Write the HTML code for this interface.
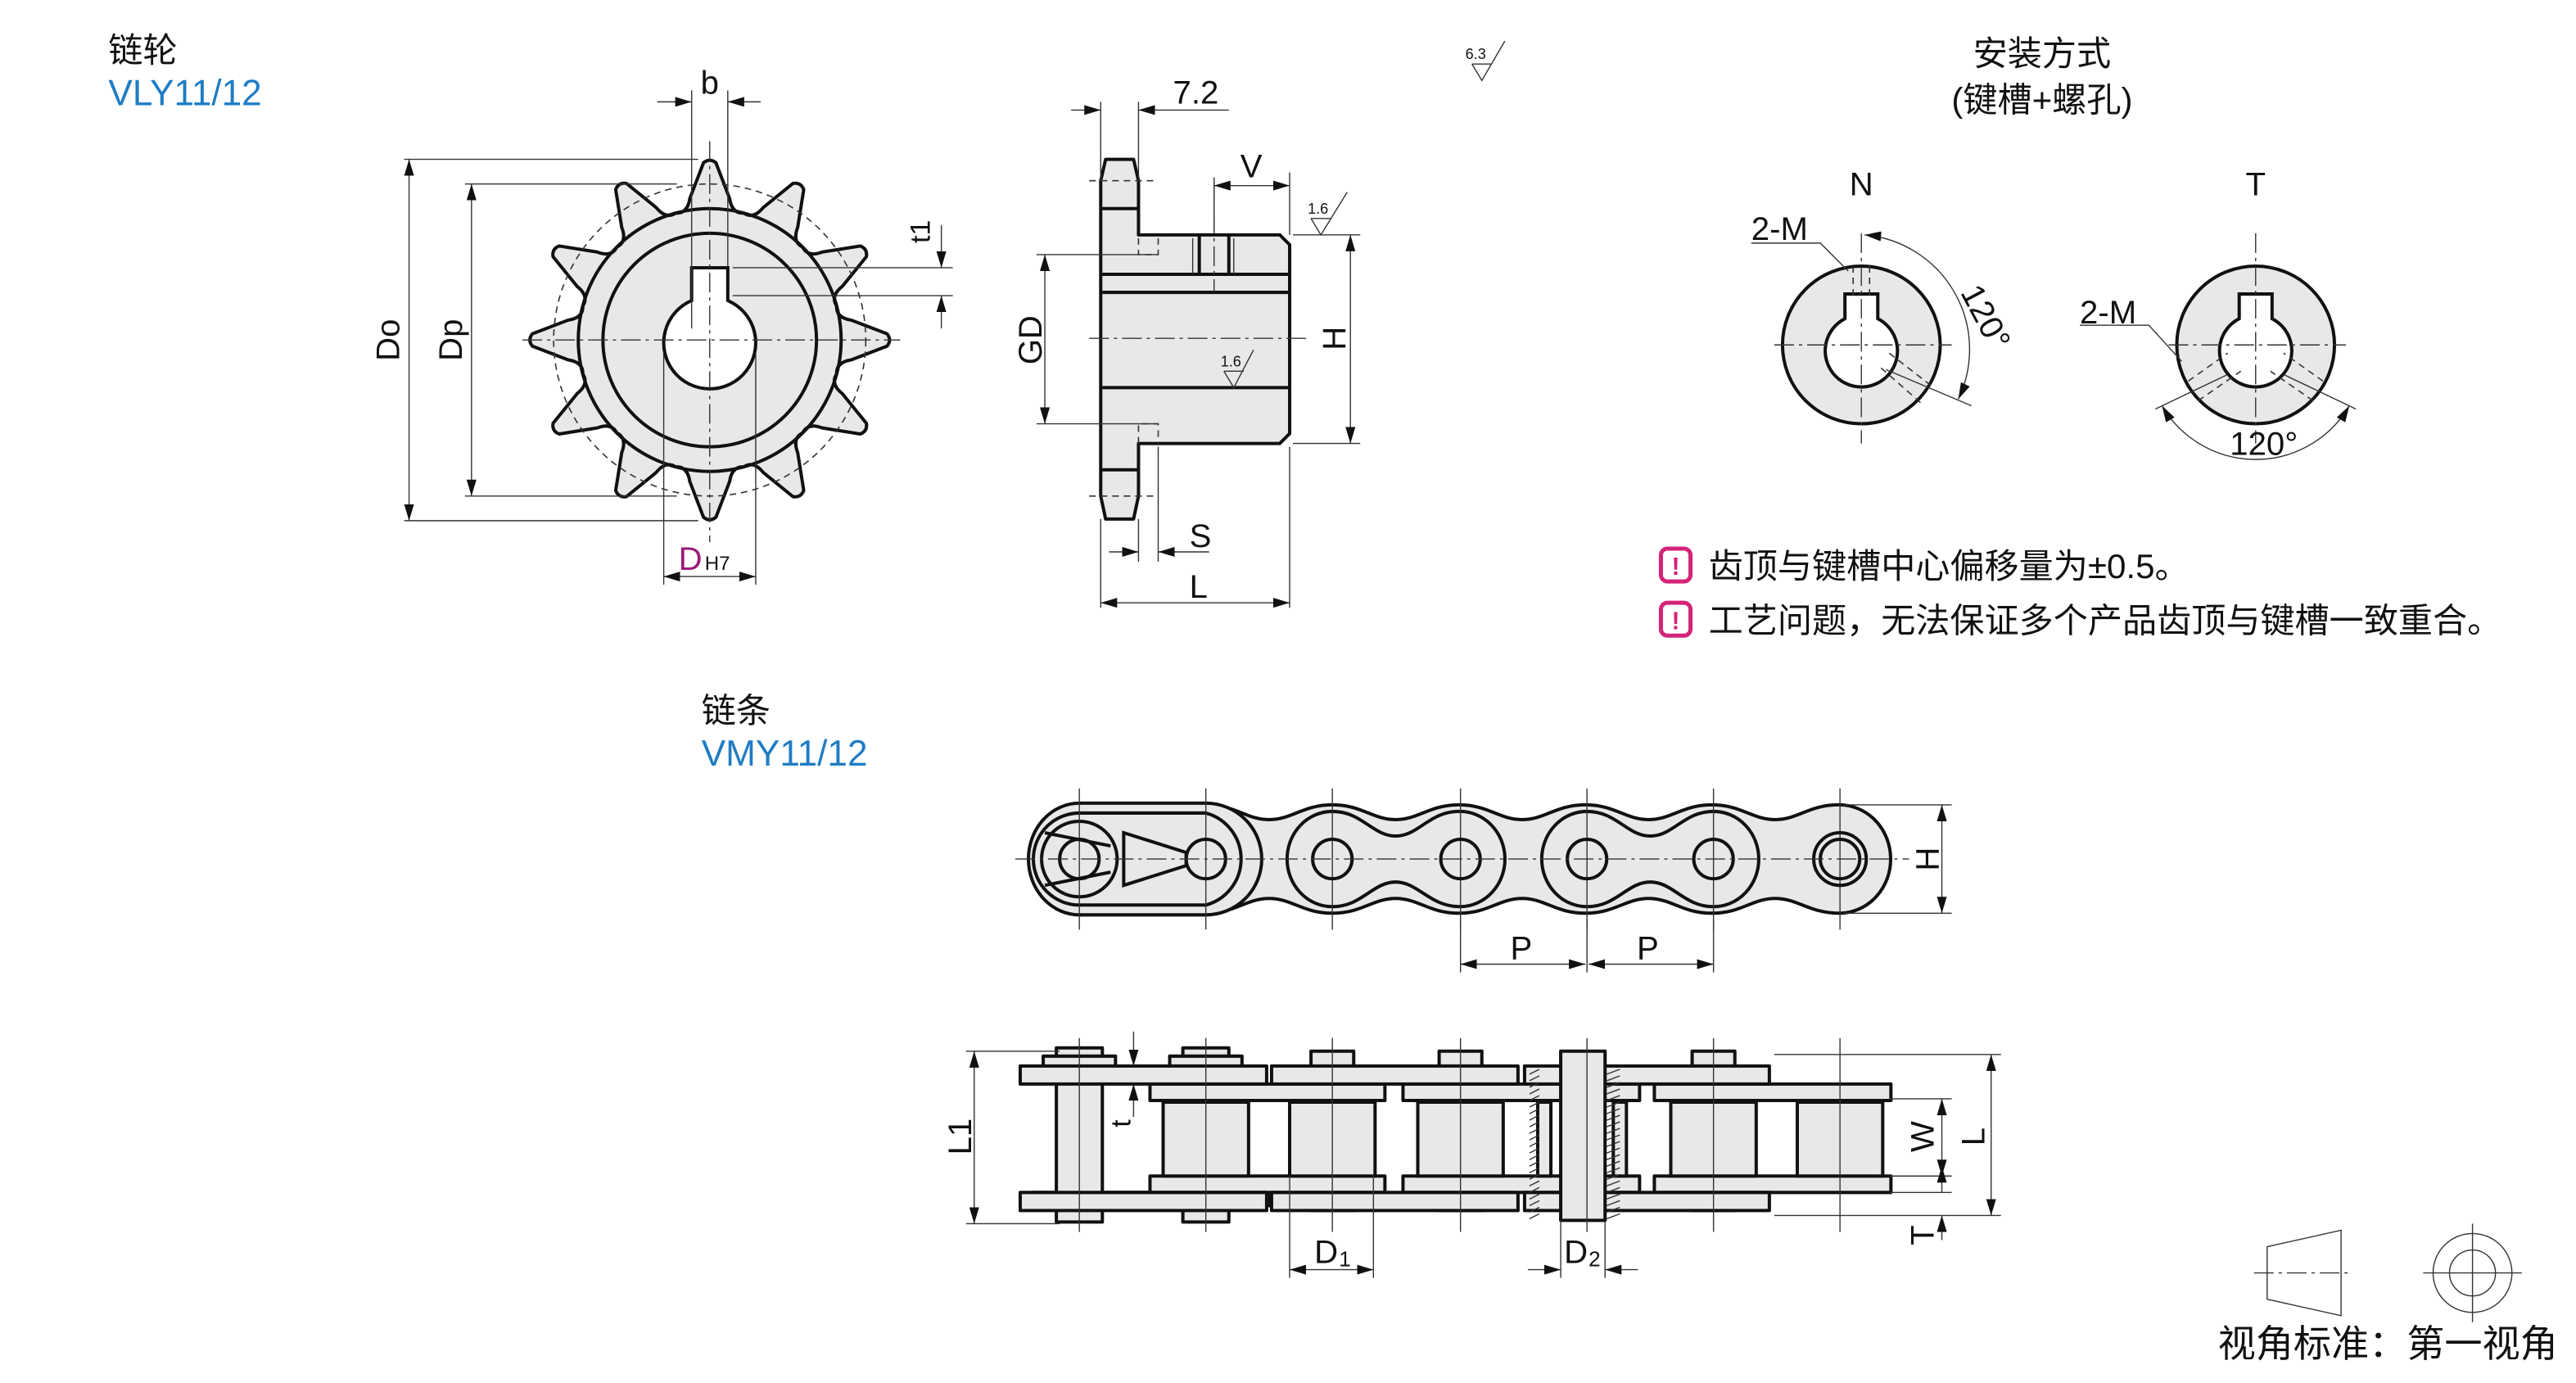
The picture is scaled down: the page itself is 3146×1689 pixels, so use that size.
<!DOCTYPE html>
<html><head><meta charset="utf-8"><style>
html,body{margin:0;padding:0;background:#fff;}
svg{display:block;}
text{font-family:"Liberation Sans","Noto Sans CJK SC",sans-serif;fill:#111;}
.k{stroke:#111;stroke-width:2;fill:#e8e8ea;stroke-linejoin:round;}
.kn{stroke:#111;stroke-width:2;fill:none;}
.t{stroke:#333;stroke-width:0.7;fill:none;}
.c{stroke:#333;stroke-width:0.7;fill:none;stroke-dasharray:12 3 2 3;}
.d{stroke:#333;stroke-width:0.8;fill:none;stroke-dasharray:4 3;}
.w{fill:#fff;stroke:#111;stroke-width:2;}
</style></head><body>
<svg id="s" width="3146" height="1689" viewBox="0 0 1568 842" preserveAspectRatio="none" xmlns="http://www.w3.org/2000/svg">
<defs>
<marker id="a" viewBox="0 0 10 6" refX="10" refY="3" markerWidth="10" markerHeight="6" orient="auto-start-reverse" markerUnits="userSpaceOnUse"><path d="M0,0 L10,3 L0,6 z" fill="#111"/></marker>
</defs>

<text x="66" y="38" font-size="21">链轮</text>
<text x="66" y="64" font-size="22" style="fill:#1f7cc4">VLY11/12</text>
<text x="427" y="440" font-size="21">链条</text>
<text x="427" y="466" font-size="22" style="fill:#1f7cc4">VMY11/12</text>
<text x="1243" y="40" font-size="21" text-anchor="middle">安装方式</text>
<text x="1243" y="68" font-size="21" text-anchor="middle">(键槽+螺孔)</text>

<text x="892" y="36" font-size="9">6.3</text>
<path class="t" d="M896,39 L902,49 L916,25 M896,39 L908,39"/>

<!-- sprocket front -->
<g id="spr"></g>
<circle class="d" cx="432" cy="207" r="95" stroke-dasharray="8 4"/>
<circle class="kn" cx="432" cy="207" r="80"/>
<circle class="kn" cx="432" cy="207" r="65"/>
<path class="w" d="M421,183 L421,163 L443,163 L443,183 A28,28 0 1 1 421,183 Z"/>
<path class="c" d="M318,207 L548,207 M432,86 L432,330"/>
<path class="t" d="M246,97 L425,97 M246,317 L425,317 M283,112 L412,112 M283,302 L412,302"/>
<line class="t" x1="249" y1="97" x2="249" y2="317" marker-start="url(#a)" marker-end="url(#a)"/>
<line class="t" x1="287" y1="112" x2="287" y2="302" marker-start="url(#a)" marker-end="url(#a)"/>
<text transform="translate(249,207) rotate(-90)" font-size="20" text-anchor="middle" dy="-6">Do</text>
<text transform="translate(287,207) rotate(-90)" font-size="20" text-anchor="middle" dy="-6">Dp</text>
<path class="t" d="M421,55 L421,200 M443,55 L443,162"/>
<line class="t" x1="400" y1="62" x2="421" y2="62" marker-end="url(#a)"/>
<line class="t" x1="463" y1="62" x2="443" y2="62" marker-end="url(#a)"/>
<text x="432" y="57" font-size="20" text-anchor="middle">b</text>
<path class="t" d="M446,163 L580,163 M446,180 L580,180"/>
<line class="t" x1="573" y1="137" x2="573" y2="163" marker-end="url(#a)"/>
<line class="t" x1="573" y1="200" x2="573" y2="180" marker-end="url(#a)"/>
<text transform="translate(566,141) rotate(-90)" font-size="17" text-anchor="middle">t1</text>
<path class="t" d="M404,215 L404,356 M460,215 L460,356"/>
<line class="t" x1="432" y1="351" x2="404" y2="351" marker-end="url(#a)"/>
<line class="t" x1="432" y1="351" x2="460" y2="351" marker-end="url(#a)"/>
<text x="413" y="347" font-size="20" style="fill:#9b1a7a">D</text>
<text x="429" y="347" font-size="12">H7</text>

<!-- sprocket side -->
<path class="k" d="M670,110 L673,97 L690,97 L693,110 L693,143 L779,143 L785,149 L785,264 L779,270 L693,270 L693,302 L690,316 L673,316 L670,302 Z"/>
<path class="kn" d="M670,127 L693,127 M670,286 L693,286 M670,167 L785,167 M670,178 L785,178 M670,236 L785,236 M730,143 L730,167 M748,143 L748,167"/>
<path class="t" d="M726,145 L726,167 M751,145 L751,167"/>
<path class="d" d="M693,145 L693,155 L705,155 L705,145 M693,270 L693,258 L705,258 L705,270 M663,110 L703,110 M663,302 L703,302"/>
<path class="c" d="M663,206 L795,206 M739,110 L739,178"/>
<path class="t" d="M670,62 L670,110 M693,62 L693,110"/>
<line class="t" x1="652" y1="67" x2="670" y2="67" marker-end="url(#a)"/>
<line class="t" x1="748" y1="67" x2="693" y2="67" marker-end="url(#a)"/>
<text x="714" y="63" font-size="20">7.2</text>
<path class="t" d="M739,108 L739,140 M785,105 L785,143"/>
<line class="t" x1="762" y1="113" x2="739" y2="113" marker-end="url(#a)"/>
<line class="t" x1="762" y1="113" x2="785" y2="113" marker-end="url(#a)"/>
<text x="755" y="108" font-size="20">V</text>
<text x="796" y="130" font-size="9">1.6</text>
<path class="t" d="M798,133 L804,143 L820,117 M798,133 L810,133"/>
<text x="743" y="223" font-size="9">1.6</text>
<path class="t" d="M745,226 L751,236 L763,213 M745,226 L757,226"/>
<path class="t" d="M631,155 L705,155 M631,258 L705,258"/>
<line class="t" x1="636" y1="206" x2="636" y2="155" marker-end="url(#a)"/>
<line class="t" x1="636" y1="206" x2="636" y2="258" marker-end="url(#a)"/>
<text transform="translate(634,207) rotate(-90)" font-size="20" text-anchor="middle">GD</text>
<path class="t" d="M787,143 L828,143 M787,270 L828,270"/>
<line class="t" x1="822" y1="206" x2="822" y2="143" marker-end="url(#a)"/>
<line class="t" x1="822" y1="206" x2="822" y2="270" marker-end="url(#a)"/>
<text transform="translate(819,206) rotate(-90)" font-size="20" text-anchor="middle">H</text>
<path class="t" d="M670,316 L670,370 M693,316 L693,342 M705,272 L705,342 M785,272 L785,370"/>
<line class="t" x1="675" y1="336" x2="693" y2="336" marker-end="url(#a)"/>
<line class="t" x1="736" y1="336" x2="705" y2="336" marker-end="url(#a)"/>
<text x="724" y="333" font-size="20">S</text>
<line class="t" x1="670" y1="367" x2="785" y2="367" marker-start="url(#a)" marker-end="url(#a)"/>
<text x="724" y="364" font-size="20">L</text>

<!-- N / T -->
<text x="1133" y="119" font-size="20" text-anchor="middle">N</text>
<text x="1373" y="119" font-size="20" text-anchor="middle">T</text>
<circle class="k" cx="1133" cy="210" r="48"/>
<path class="w" d="M1123,194 L1123,179 L1143,179 L1143,194 A22,22 0 1 1 1123,194 Z"/>
<path class="c" d="M1080,210 L1188,210 M1133,142 L1133,270"/>
<path class="d" d="M1128,162 L1128,180 M1138,162 L1138,180 M1150,215 L1177,236 M1145,224 L1170,246"/>
<path class="t" d="M1066,148 L1108,148 L1125,165"/>
<text x="1066" y="146" font-size="20">2-M</text>
<path class="t" d="M1148,225 L1200,247"/>
<path class="t" d="M1135,143 A70,70 0 0 1 1192,243" marker-start="url(#a)" marker-end="url(#a)"/>
<text transform="translate(1193,178) rotate(62)" font-size="20">120°</text>

<circle class="k" cx="1373" cy="210" r="48"/>
<path class="w" d="M1363,194 L1363,179 L1383,179 L1383,194 A22,22 0 1 1 1363,194 Z"/>
<path class="c" d="M1320,210 L1428,210 M1373,142 L1373,270"/>
<path class="d" d="M1332,232 L1356,215 M1338,244 L1364,226 M1414,232 L1390,215 M1408,244 L1382,226"/>
<path class="t" d="M1266,198 L1308,198 L1328,220"/>
<text x="1266" y="197" font-size="20">2-M</text>
<path class="t" d="M1356,228 L1312,249 M1390,228 L1434,249"/>
<path class="t" d="M1316,247 A66,66 0 0 0 1430,247" marker-start="url(#a)" marker-end="url(#a)"/>
<text x="1378" y="277" font-size="20" text-anchor="middle">120°</text>

<!-- notes -->
<rect x="1011" y="334" width="18" height="20" rx="4" fill="none" stroke="#d4237a" stroke-width="2.5"/>
<text x="1020" y="350" font-size="15" text-anchor="middle" font-weight="bold" style="fill:#d4237a">!</text>
<text x="1040" y="352" font-size="21">齿顶与键槽中心偏移量为±0.5。</text>
<rect x="1011" y="367" width="18" height="20" rx="4" fill="none" stroke="#d4237a" stroke-width="2.5"/>
<text x="1020" y="383" font-size="15" text-anchor="middle" font-weight="bold" style="fill:#d4237a">!</text>
<text x="1040" y="385" font-size="21">工艺问题，无法保证多个产品齿顶与键槽一致重合。</text>

<!-- chain top -->
<g id="ch"></g>
<path class="c" d="M618,523 L1162,523"/>
<path class="t" d="M1122,490 L1188,490 M1122,556 L1188,556"/>
<line class="t" x1="1182" y1="523" x2="1182" y2="490" marker-end="url(#a)"/>
<line class="t" x1="1182" y1="523" x2="1182" y2="556" marker-end="url(#a)"/>
<text transform="translate(1180,523) rotate(-90)" font-size="20" text-anchor="middle">H</text>
<path class="t" d="M889,560 L889,592 M966,560 L966,592 M1043,560 L1043,592"/>
<line class="t" x1="889" y1="587" x2="965" y2="587" marker-start="url(#a)" marker-end="url(#a)"/>
<line class="t" x1="967" y1="587" x2="1043" y2="587" marker-start="url(#a)" marker-end="url(#a)"/>
<text x="926" y="584" font-size="20" text-anchor="middle">P</text>
<text x="1003" y="584" font-size="20" text-anchor="middle">P</text>

<g id="cb"></g>

<path class="t" d="M1380,759 L1425,749 L1425,801 L1380,791 Z"/>
<path class="c" d="M1372,775 L1432,775"/>
<circle class="t" cx="1505" cy="775" r="24"/>
<circle class="t" cx="1505" cy="775" r="14"/>
<path class="t" d="M1475,775 L1535,775 M1505,745 L1505,805"/>
<text x="1350" y="826" font-size="23">视角标准：第一视角</text>
</svg>
<script>
var NS="http://www.w3.org/2000/svg";
function el(p,t,a){var e=document.createElementNS(NS,t);for(var k in a)e.setAttribute(k,a[k]);p.appendChild(e);return e;}
(function(){var cx=432,cy=207,d="";function P(a,r){a=a*Math.PI/180;return (cx+r*Math.sin(a)).toFixed(2)+","+(cy-r*Math.cos(a)).toFixed(2);}
for(var i=0;i<12;i++){var a=i*30;
 if(i==0)d+="M"+P(a-15,80);
 d+=" Q"+P(a-10,78)+" "+P(a-8,87)+" L"+P(a-2,108)+" Q"+P(a,111)+" "+P(a+2,108)+" L"+P(a+8,87)+" Q"+P(a+10,78)+" "+P(a+15,80);}
el(document.getElementById("spr"),"path",{d:d+"Z","class":"k"});})();
(function(){var g=document.getElementById("ch"),xs=[657,734,811,889,966,1043,1120],y=523;
function shape(x1,x2,R,w){var n=Math.round((x2-x1)/77),d="";
 d="M"+(x1)+","+(y-R)+" ";
 for(var i=0;i<n;i++){var a=x1+77*i,b=a+77,m=(a+b)/2;d+="C"+(a+18)+","+(y-R)+" "+(m-14)+","+(y-w)+" "+m+","+(y-w)+" C"+(m+14)+","+(y-w)+" "+(b-18)+","+(y-R)+" "+b+","+(y-R)+" ";}
 d+="A"+R*0.95+","+R+" 0 0 1 "+x2+","+(y+R)+" ";
 for(var i=n-1;i>=0;i--){var a=x1+77*i,b=a+77,m=(a+b)/2;d+="C"+(b-18)+","+(y+R)+" "+(m+14)+","+(y+w)+" "+m+","+(y+w)+" C"+(m-14)+","+(y+w)+" "+(a+18)+","+(y+R)+" "+a+","+(y+R)+" ";}
 d+="A"+R*0.95+","+R+" 0 0 1 "+x1+","+(y-R)+"Z";return d;}
el(g,"path",{d:shape(734,1120,33,24),"class":"k"});
el(g,"path",{d:shape(811,889,29,14),"class":"kn"});
el(g,"path",{d:shape(966,1043,29,14),"class":"kn"});
el(g,"path",{d:"M657,489 L734,489 A33,33 0 0 1 734,557 L657,557 A31,34 0 0 1 657,489Z","class":"k"});
el(g,"path",{d:"M657,495 L734,495 A29,29 0 0 1 734,551 L657,551 A28,28 0 0 1 657,495Z","class":"kn"});
el(g,"circle",{cx:657,cy:523,r:23,"class":"kn"});
el(g,"path",{d:"M636,507 L676,515 M636,539 L676,531 M684,507 L722,519 L722,527 L684,539Z","class":"kn"});
xs.forEach(function(x,i){el(g,"line",{x1:x,y1:480,x2:x,y2:566,"class":"t"});
 if(i<6)el(g,"circle",{cx:x,cy:523,r:12,"class":"kn",fill:"#e8e8ea"});});
el(g,"circle",{cx:1120,cy:523,r:16,"class":"kn"});el(g,"circle",{cx:1120,cy:523,r:12,"class":"kn"});
})();
(function(){var g=document.getElementById("cb");
function R(x,y,w,h,c){el(g,"rect",{x:x,y:y,width:w,height:h,"class":c||"k"});}
var xs=[657,734,811,889,966,1043,1120];
[811,889,1043].forEach(function(x){R(x-13,640,26,10);R(x-13,726,26,11);});
[657,734].forEach(function(x){R(x-14,638,28,12);R(x-22,643,44,7);R(x-14,733,28,11);});
R(629,726,144,8);
R(643,650,28,80);
[[700,143],[854,144],[1007,144]].forEach(function(p){R(p[0],660,p[1],10);R(p[0],716,p[1],10);});
[[621,150],[774,150],[928,149]].forEach(function(p){R(p[0],649,p[1],11);R(p[0],726,p[1],11);});
[734,811,889,1043,1120].forEach(function(x){R(x-26,671,52,45);});
R(936,671,8,45);R(982,671,8,45);
R(950,640,27,103);
var h="";for(var yy=651;yy<740;yy+=4){h+="M931,"+(yy+3)+" L937,"+yy+" M978,"+(yy+3)+" L986,"+yy+" ";}
el(g,"path",{d:h,"class":"t"});
xs.forEach(function(x){el(g,"line",{x1:x,y1:632,x2:x,y2:750,"class":"t"});});
el(g,"path",{d:"M588,640 L645,640 M588,745 L645,745","class":"t"});
el(g,"line",{x1:593,y1:692,x2:593,y2:640,"class":"t","marker-end":"url(#a)"});
el(g,"line",{x1:593,y1:692,x2:593,y2:745,"class":"t","marker-end":"url(#a)"});
var t=el(g,"text",{transform:"translate(591,692) rotate(-90)","font-size":"20","text-anchor":"middle"});t.textContent="L1";
el(g,"line",{x1:690,y1:628,x2:690,y2:649,"class":"t","marker-end":"url(#a)"});
el(g,"line",{x1:690,y1:680,x2:690,y2:660,"class":"t","marker-end":"url(#a)"});
t=el(g,"text",{transform:"translate(688,684) rotate(-90)","font-size":"17","text-anchor":"middle"});t.textContent="t";
el(g,"path",{d:"M1150,669 L1188,669 M1150,716 L1188,716 M1150,726 L1188,726 M1080,642 L1218,642 M1080,740 L1218,740","class":"t"});
el(g,"line",{x1:1182,y1:692,x2:1182,y2:669,"class":"t","marker-end":"url(#a)"});
el(g,"line",{x1:1182,y1:692,x2:1182,y2:716,"class":"t","marker-end":"url(#a)"});
el(g,"line",{x1:1182,y1:710,x2:1182,y2:726,"class":"t","marker-start":"url(#a)"});
el(g,"line",{x1:1182,y1:755,x2:1182,y2:740,"class":"t","marker-end":"url(#a)"});
el(g,"line",{x1:1212,y1:690,x2:1212,y2:642,"class":"t","marker-end":"url(#a)"});
el(g,"line",{x1:1212,y1:690,x2:1212,y2:740,"class":"t","marker-end":"url(#a)"});
t=el(g,"text",{transform:"translate(1177,692) rotate(-90)","font-size":"20","text-anchor":"middle"});t.textContent="W";
t=el(g,"text",{transform:"translate(1208,692) rotate(-90)","font-size":"20","text-anchor":"middle"});t.textContent="L";
t=el(g,"text",{transform:"translate(1177,752) rotate(-90)","font-size":"20","text-anchor":"middle"});t.textContent="T";
el(g,"path",{d:"M785,716 L785,778 M836,716 L836,778 M950,743 L950,778 M977,743 L977,778","class":"t"});
el(g,"line",{x1:785,y1:773,x2:836,y2:773,"class":"t","marker-start":"url(#a)","marker-end":"url(#a)"});
el(g,"line",{x1:930,y1:773,x2:950,y2:773,"class":"t","marker-end":"url(#a)"});
el(g,"line",{x1:997,y1:773,x2:977,y2:773,"class":"t","marker-end":"url(#a)"});
t=el(g,"text",{x:800,y:769,"font-size":"20"});t.textContent="D";
t=el(g,"text",{x:815,y:771,"font-size":"13"});t.textContent="1";
t=el(g,"text",{x:952,y:769,"font-size":"20"});t.textContent="D";
t=el(g,"text",{x:967,y:771,"font-size":"13"});t.textContent="2";
})();
</script>
</body></html>
